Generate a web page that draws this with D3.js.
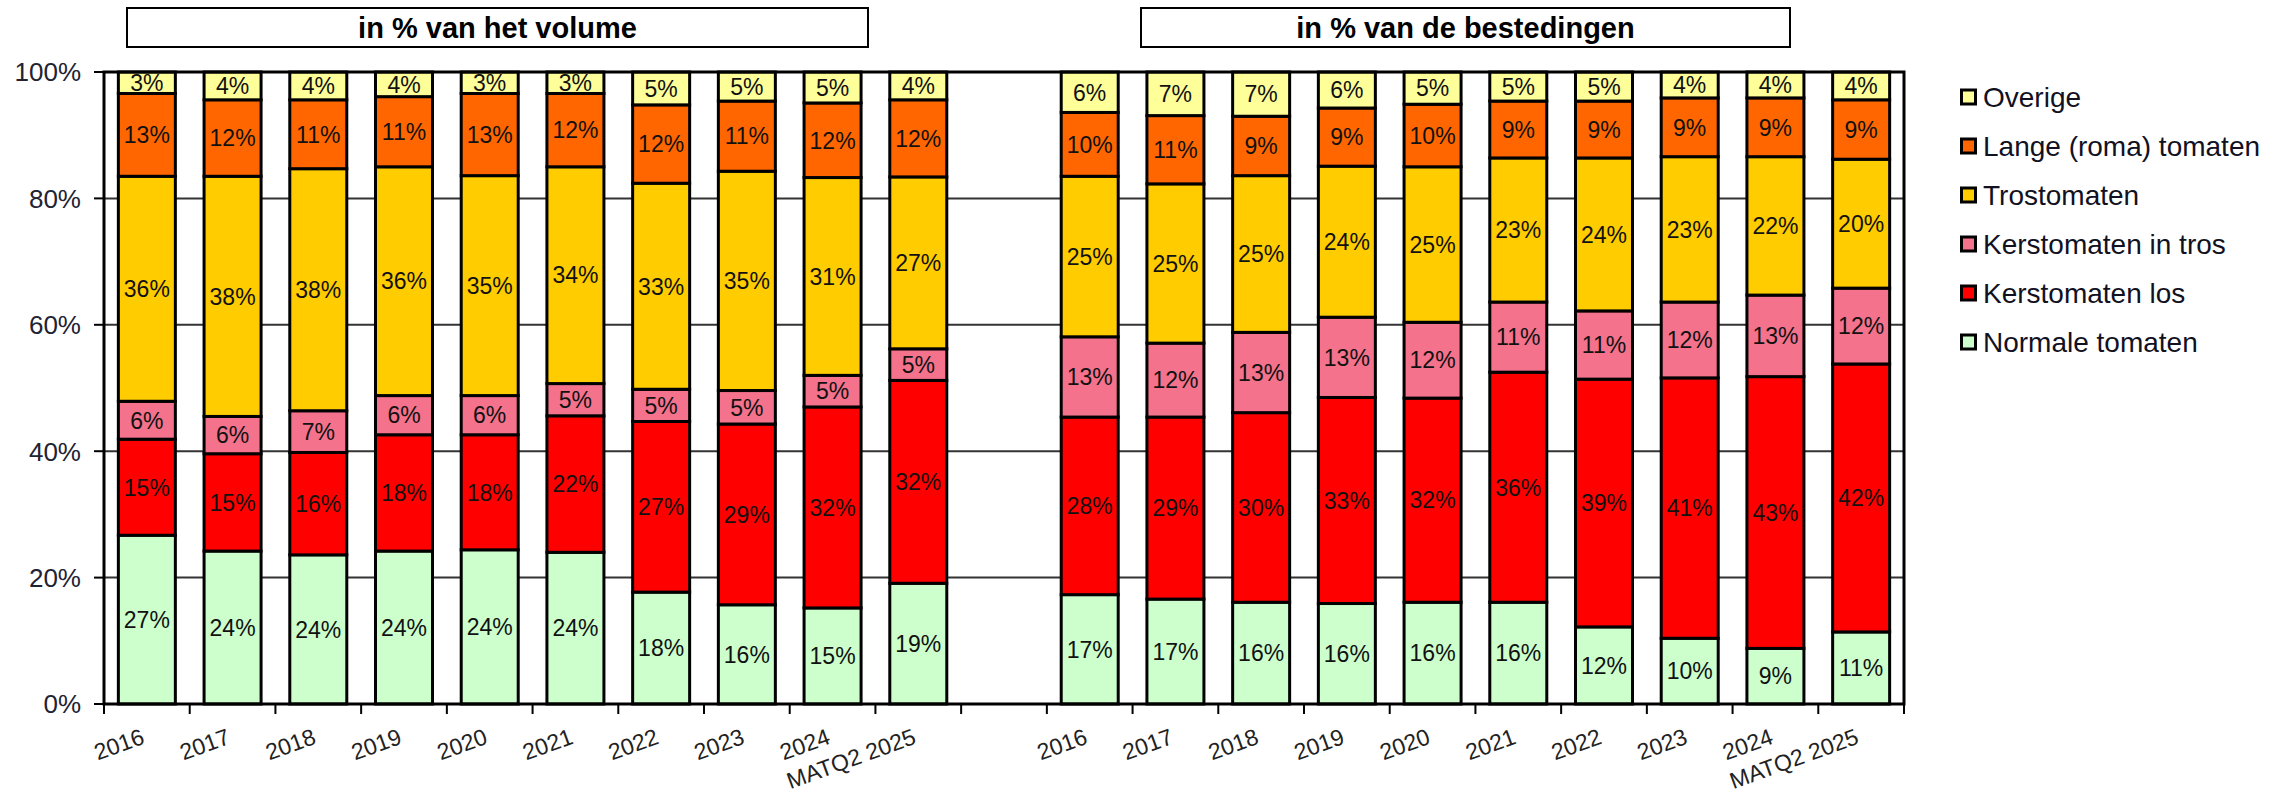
<!DOCTYPE html>
<html lang="nl">
<head>
<meta charset="utf-8">
<title>Tomaten aandelen</title>
<script src="https://d3js.org/d3.v7.min.js"></script>
<style>
  body { margin: 0; background: #fff; }
  svg { display: block; font-family: "Liberation Sans", Arial, sans-serif; }
</style>
</head>
<body>
<script>

var width = 2288, height = 796

var categories = ["2016", "2017", "2018", "2019", "2020", "2021", "2022", "2023", "2024", "MATQ2 2025"]
var seriesNames = ["Normale tomaten", "Kerstomaten los", "Kerstomaten in tros", "Trostomaten", "Lange (roma) tomaten", "Overige"]
var seriesColors = ["#ccffcc", "#ff0000", "#f4728c", "#ffcc00", "#ff6600", "#ffff99"]
var yTicks = [0, 20, 40, 60, 80, 100]
var panelTitles = ["in % van het volume", "in % van de bestedingen"]

// in % van het volume
var volNormale     = [26.7, 24.2, 23.6, 24.2, 24.4, 24.0, 17.7, 15.7, 15.2, 19.1]
var volLos         = [15.2, 15.4, 16.2, 18.4, 18.2, 21.6, 27.0, 28.6, 31.8, 32.1]
var volTros        = [6.0, 5.9, 6.6, 6.2, 6.2, 5.1, 5.1, 5.3, 5.0, 5.0]
var volTrostomaten = [35.6, 38.0, 38.3, 36.2, 34.8, 34.3, 32.6, 34.7, 31.3, 27.2]
var volLange       = [13.1, 12.1, 10.9, 11.1, 13.0, 11.6, 12.4, 11.1, 11.8, 12.2]
var volOverige     = [3.4, 4.4, 4.4, 3.9, 3.4, 3.4, 5.2, 4.6, 4.9, 4.4]

// in % van de bestedingen
var bestNormale     = [17.3, 16.6, 16.1, 15.9, 16.1, 16.1, 12.2, 10.4, 8.8, 11.4]
var bestLos         = [28.1, 28.8, 30.0, 32.6, 32.3, 36.4, 39.2, 41.2, 43.0, 42.4]
var bestTros        = [12.7, 11.7, 12.7, 12.7, 12.0, 11.1, 10.8, 12.0, 12.9, 12.0]
var bestTrostomaten = [25.4, 25.2, 24.8, 23.9, 24.6, 22.8, 24.2, 23.0, 21.9, 20.4]
var bestLange       = [10.1, 10.8, 9.4, 9.2, 9.9, 9.0, 9.0, 9.3, 9.3, 9.4]
var bestOverige     = [6.4, 6.9, 7.0, 5.7, 5.1, 4.6, 4.6, 4.1, 4.1, 4.4]

var panels = [
  {prefix: "v", title: panelTitles[0], rows: [volNormale, volLos, volTros, volTrostomaten, volLange, volOverige]},
  {prefix: "b", title: panelTitles[1], rows: [bestNormale, bestLos, bestTros, bestTrostomaten, bestLange, bestOverige]}
]

var plotL = 104, plotR = 1904, plotT = 72, plotB = 704

var svg = d3.select("body").append("svg")
  .attr("width", width)
  .attr("height", height)

// 21 slots: 10 volume, 1 empty, 10 bestedingen
var keys = categories.map(function(c){ return "v" + c })
  .concat(["gap"])
  .concat(categories.map(function(c){ return "b" + c }))

var x = d3.scaleBand()
  .domain(keys)
  .range([plotL, plotR])
  .paddingInner(0.335)
  .paddingOuter(0.1675)

var y = d3.scaleLinear()
  .domain([0, 100])
  .range([plotB, plotT])

// gridlines
svg.append("g")
  .selectAll("line")
  .data(yTicks.filter(function(t){ return t > 0 && t < 100 }))
  .enter().append("line")
  .attr("x1", plotL).attr("x2", plotR)
  .attr("y1", function(d){ return y(d) }).attr("y2", function(d){ return y(d) })
  .attr("stroke", "#333").attr("stroke-width", 2)

// bars
var stack = d3.stack()
  .keys(d3.range(seriesNames.length))
  .value(function(d, k){ return d.vals[k] })

var fmt = function(v){ return Math.round(v) + "%" }

panels.forEach(function(p){
  var data = categories.map(function(c, i){
    return {key: p.prefix + c, vals: p.rows.map(function(r){ return r[i] })}
  })
  var layers = stack(data)

  var g = svg.append("g")
  var lg = g.selectAll("g.layer")
    .data(layers)
    .enter().append("g")
    .attr("class", "layer")
    .attr("fill", function(d){ return seriesColors[d.key] })

  lg.selectAll("rect")
    .data(function(d){ return d })
    .enter().append("rect")
    .attr("x", function(d){ return x(d.data.key) })
    .attr("width", x.bandwidth())
    .attr("y", function(d){ return y(d[1]) })
    .attr("height", function(d){ return y(d[0]) - y(d[1]) })
    .attr("stroke", "#000")
    .attr("stroke-width", 3)

  var tg = svg.append("g")
    .attr("font-size", 23)
    .attr("fill", "#111")
    .attr("text-anchor", "middle")
  layers.forEach(function(layer){
    tg.selectAll(null)
      .data(layer)
      .enter().append("text")
      .attr("x", function(d){ return x(d.data.key) + x.bandwidth() / 2 })
      .attr("y", function(d){ return y((d[0] + d[1]) / 2) })
      .attr("dy", "0.36em")
      .text(function(d){ return fmt(d[1] - d[0]) })
  })
})

// frame
svg.append("rect")
  .attr("x", plotL).attr("y", plotT)
  .attr("width", plotR - plotL).attr("height", plotB - plotT)
  .attr("fill", "none").attr("stroke", "#000").attr("stroke-width", 3)

// y axis ticks + labels
var ya = svg.append("g")
ya.selectAll("line")
  .data(yTicks)
  .enter().append("line")
  .attr("x1", plotL - 10).attr("x2", plotL)
  .attr("y1", function(d){ return y(d) }).attr("y2", function(d){ return y(d) })
  .attr("stroke", "#000").attr("stroke-width", 2)
ya.selectAll("text")
  .data(yTicks)
  .enter().append("text")
  .attr("x", 81)
  .attr("y", function(d){ return y(d) })
  .attr("dy", "0.36em")
  .attr("text-anchor", "end")
  .attr("font-size", 26)
  .attr("fill", "#223")
  .text(function(d){ return d + "%" })

// x axis ticks on slot boundaries
var step = x.step()
svg.append("g")
  .selectAll("line")
  .data(d3.range(keys.length + 1))
  .enter().append("line")
  .attr("x1", function(i){ return plotL + i * step })
  .attr("x2", function(i){ return plotL + i * step })
  .attr("y1", plotB).attr("y2", plotB + 10)
  .attr("stroke", "#000").attr("stroke-width", 2)

// x labels, rotated; text end sits under the bar centre
svg.append("g")
  .selectAll("text")
  .data(keys.filter(function(k){ return k !== "gap" }))
  .enter().append("text")
  .attr("transform", function(k){
    var cx = x(k) + x.bandwidth() / 2
    return "translate(" + (cx - 1) + ",743) rotate(-20)"
  })
  .attr("text-anchor", "end")
  .attr("font-size", 23)
  .attr("fill", "#222")
  .text(function(k){ return k.slice(1) })

// panel titles
var titleBoxes = [[127, 868], [1141, 1790]]
panels.forEach(function(p, i){
  var b = titleBoxes[i]
  svg.append("rect")
    .attr("x", b[0]).attr("y", 8)
    .attr("width", b[1] - b[0]).attr("height", 39)
    .attr("fill", "#fff").attr("stroke", "#000").attr("stroke-width", 2)
  svg.append("text")
    .attr("x", (b[0] + b[1]) / 2).attr("y", 28)
    .attr("dy", "0.36em")
    .attr("text-anchor", "middle")
    .attr("font-size", 29).attr("font-weight", "bold")
    .text(p.title)
})

// legend (top item = last series)
var legend = svg.append("g")
  .selectAll("g")
  .data(d3.range(seriesNames.length).reverse())
  .enter().append("g")
  .attr("transform", function(k, i){ return "translate(1960," + (97 + i * 49) + ")" })
legend.append("rect")
  .attr("x", 1.5).attr("y", -7)
  .attr("width", 14).attr("height", 14)
  .attr("fill", function(k){ return seriesColors[k] })
  .attr("stroke", "#000").attr("stroke-width", 3)
legend.append("text")
  .attr("x", 23)
  .attr("dy", "0.36em")
  .attr("font-size", 28)
  .attr("fill", "#112")
  .text(function(k){ return seriesNames[k] })

</script>
</body>
</html>
